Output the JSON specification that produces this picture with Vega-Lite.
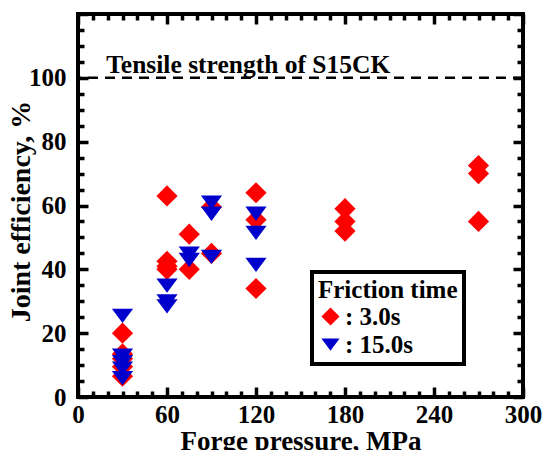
{
  "$schema": "https://vega.github.io/schema/vega-lite/v6.json",
  "width": 445,
  "height": 383,
  "autosize": "none",
  "padding": {"left": 78, "top": 14, "right": 19, "bottom": 53},
  "config": {
    "view": {"stroke": "black", "strokeWidth": 4},
    "font": "Times New Roman, Liberation Serif, serif",
    "axis": {
      "grid": false,
      "domain": false,
      "labelFont": "Times New Roman, Liberation Serif, serif",
      "labelFontWeight": "bold",
      "labelFontSize": 25,
      "labelColor": "black",
      "titleFont": "Times New Roman, Liberation Serif, serif",
      "titleFontWeight": "bold",
      "titleColor": "black",
      "tickColor": "black",
      "tickWidth": 3.5,
      "labelFlush": false,
      "labelOverlap": false
    },
    "legend": {
      "titleFont": "Times New Roman, Liberation Serif, serif",
      "labelFont": "Times New Roman, Liberation Serif, serif"
    }
  },
  "resolve": {"axis": {"x": "independent", "y": "independent"}},
  "layer": [
    {
      "data": {"values": [{"level": 100}]},
      "mark": {"type": "rule", "strokeDash": [10, 7], "strokeWidth": 2.5, "color": "black"},
      "encoding": {
        "y": {
          "field": "level",
          "type": "quantitative",
          "scale": {"domain": [0, 120], "nice": false},
          "axis": {
            "orient": "right",
            "values": [0,5,10,15,20,25,30,35,40,45,50,55,60,65,70,75,80,85,90,95,100,105,110,115,120],
            "labels": false,
            "title": null,
            "tickSize": {"condition": {"test": "datum.value % 20 === 0", "value": -10}, "value": -6}
          }
        }
      }
    },
    {
      "data": {"values": [{"note": "Tensile strength of S15CK"}]},
      "mark": {"type": "text", "align": "left", "baseline": "alphabetic", "dy": -5, "fontSize": 25.5, "fontWeight": "bold", "font": "Times New Roman, Liberation Serif, serif", "color": "black"},
      "encoding": {
        "x": {
          "datum": 19,
          "type": "quantitative",
          "scale": {"domain": [0, 300], "nice": false},
          "axis": {
            "orient": "top",
            "values": [0,10,20,30,40,50,60,70,80,90,100,110,120,130,140,150,160,170,180,190,200,210,220,230,240,250,260,270,280,290,300],
            "labels": false,
            "title": null,
            "tickSize": {"condition": {"test": "datum.value % 60 === 0", "value": -10}, "value": -6}
          }
        },
        "y": {"datum": 100, "type": "quantitative", "scale": {"domain": [0, 120], "nice": false}, "axis": null},
        "text": {"field": "note"}
      }
    },
    {
      "data": {
        "values": [
          {"pressure": 30, "efficiency": 20, "time": "3.0s"},
          {"pressure": 30, "efficiency": 13.5, "time": "3.0s"},
          {"pressure": 30, "efficiency": 12, "time": "3.0s"},
          {"pressure": 30, "efficiency": 9.5, "time": "3.0s"},
          {"pressure": 30, "efficiency": 6.5, "time": "3.0s"},
          {"pressure": 60, "efficiency": 63, "time": "3.0s"},
          {"pressure": 60, "efficiency": 42.5, "time": "3.0s"},
          {"pressure": 60, "efficiency": 41, "time": "3.0s"},
          {"pressure": 60, "efficiency": 40, "time": "3.0s"},
          {"pressure": 75, "efficiency": 51, "time": "3.0s"},
          {"pressure": 75, "efficiency": 40, "time": "3.0s"},
          {"pressure": 90, "efficiency": 59.5, "time": "3.0s"},
          {"pressure": 90, "efficiency": 45, "time": "3.0s"},
          {"pressure": 120, "efficiency": 64, "time": "3.0s"},
          {"pressure": 120, "efficiency": 55.5, "time": "3.0s"},
          {"pressure": 120, "efficiency": 34, "time": "3.0s"},
          {"pressure": 180, "efficiency": 59, "time": "3.0s"},
          {"pressure": 180, "efficiency": 55, "time": "3.0s"},
          {"pressure": 180, "efficiency": 52, "time": "3.0s"},
          {"pressure": 270, "efficiency": 72.5, "time": "3.0s"},
          {"pressure": 270, "efficiency": 70, "time": "3.0s"},
          {"pressure": 270, "efficiency": 55, "time": "3.0s"},
          {"pressure": 30, "efficiency": 25.5, "time": "15.0s"},
          {"pressure": 30, "efficiency": 13, "time": "15.0s"},
          {"pressure": 30, "efficiency": 11, "time": "15.0s"},
          {"pressure": 30, "efficiency": 9, "time": "15.0s"},
          {"pressure": 30, "efficiency": 6, "time": "15.0s"},
          {"pressure": 60, "efficiency": 35, "time": "15.0s"},
          {"pressure": 60, "efficiency": 30, "time": "15.0s"},
          {"pressure": 60, "efficiency": 28.5, "time": "15.0s"},
          {"pressure": 75, "efficiency": 45, "time": "15.0s"},
          {"pressure": 75, "efficiency": 43, "time": "15.0s"},
          {"pressure": 90, "efficiency": 61, "time": "15.0s"},
          {"pressure": 90, "efficiency": 57.5, "time": "15.0s"},
          {"pressure": 90, "efficiency": 44, "time": "15.0s"},
          {"pressure": 120, "efficiency": 57.5, "time": "15.0s"},
          {"pressure": 120, "efficiency": 51.5, "time": "15.0s"},
          {"pressure": 120, "efficiency": 41.5, "time": "15.0s"}
        ]
      },
      "mark": {"type": "point", "filled": true, "size": 450, "opacity": 1},
      "encoding": {
        "x": {
          "field": "pressure",
          "type": "quantitative",
          "scale": {"domain": [0, 300], "nice": false},
          "axis": {
            "orient": "bottom",
            "values": [0,10,20,30,40,50,60,70,80,90,100,110,120,130,140,150,160,170,180,190,200,210,220,230,240,250,260,270,280,290,300],
            "labelExpr": "datum.value % 60 === 0 ? datum.label : ''",
            "tickSize": {"condition": {"test": "datum.value % 60 === 0", "value": -10}, "value": -6},
            "labelPadding": 15,
            "title": "Forge pressure, MPa",
            "titleFontSize": 27,
            "titlePadding": -3
          }
        },
        "y": {
          "field": "efficiency",
          "type": "quantitative",
          "scale": {"domain": [0, 120], "nice": false},
          "axis": {
            "orient": "left",
            "values": [0,5,10,15,20,25,30,35,40,45,50,55,60,65,70,75,80,85,90,95,100,105,110,115,120],
            "labelExpr": "datum.value % 20 === 0 && datum.value < 120 ? datum.label : ''",
            "tickSize": {"condition": {"test": "datum.value % 20 === 0", "value": -10}, "value": -6},
            "labelPadding": 22,
            "title": "Joint efficiency, %",
            "titleFontSize": 28,
            "titleX": -43,
            "titleY": 197
          }
        },
        "color": {
          "field": "time",
          "type": "nominal",
          "scale": {"domain": ["3.0s", "15.0s"], "range": ["#ff0000", "#0000cc"]},
          "legend": {
            "title": "Friction time",
            "orient": "none",
            "legendX": 234,
            "legendY": 258,
            "padding": 6,
            "strokeColor": "black",
            "fillColor": "white",
            "titleFontSize": 25,
            "titleFontWeight": "bold",
            "titleColor": "black",
            "titlePadding": 1,
            "labelFontSize": 25,
            "labelFontWeight": "bold",
            "labelColor": "black",
            "labelOffset": 2,
            "labelExpr": "': ' + datum.label",
            "symbolSize": 330,
            "symbolStrokeWidth": 0,
            "symbolOpacity": 1,
            "rowPadding": 2,
            "encode": {"legend": {"update": {"strokeWidth": {"value": 4}}}}
          }
        },
        "shape": {
          "field": "time",
          "type": "nominal",
          "scale": {"domain": ["3.0s", "15.0s"], "range": ["diamond", "M-1,-0.65L1,-0.65L0,0.7Z"]},
          "legend": {
            "title": "Friction time",
            "orient": "none",
            "legendX": 234,
            "legendY": 258,
            "padding": 6,
            "strokeColor": "black",
            "fillColor": "white",
            "titleFontSize": 25,
            "titleFontWeight": "bold",
            "titleColor": "black",
            "titlePadding": 1,
            "labelFontSize": 25,
            "labelFontWeight": "bold",
            "labelColor": "black",
            "labelOffset": 2,
            "labelExpr": "': ' + datum.label",
            "symbolSize": 330,
            "symbolStrokeWidth": 0,
            "symbolOpacity": 1,
            "rowPadding": 2,
            "encode": {"legend": {"update": {"strokeWidth": {"value": 4}}}}
          }
        }
      }
    }
  ]
}
